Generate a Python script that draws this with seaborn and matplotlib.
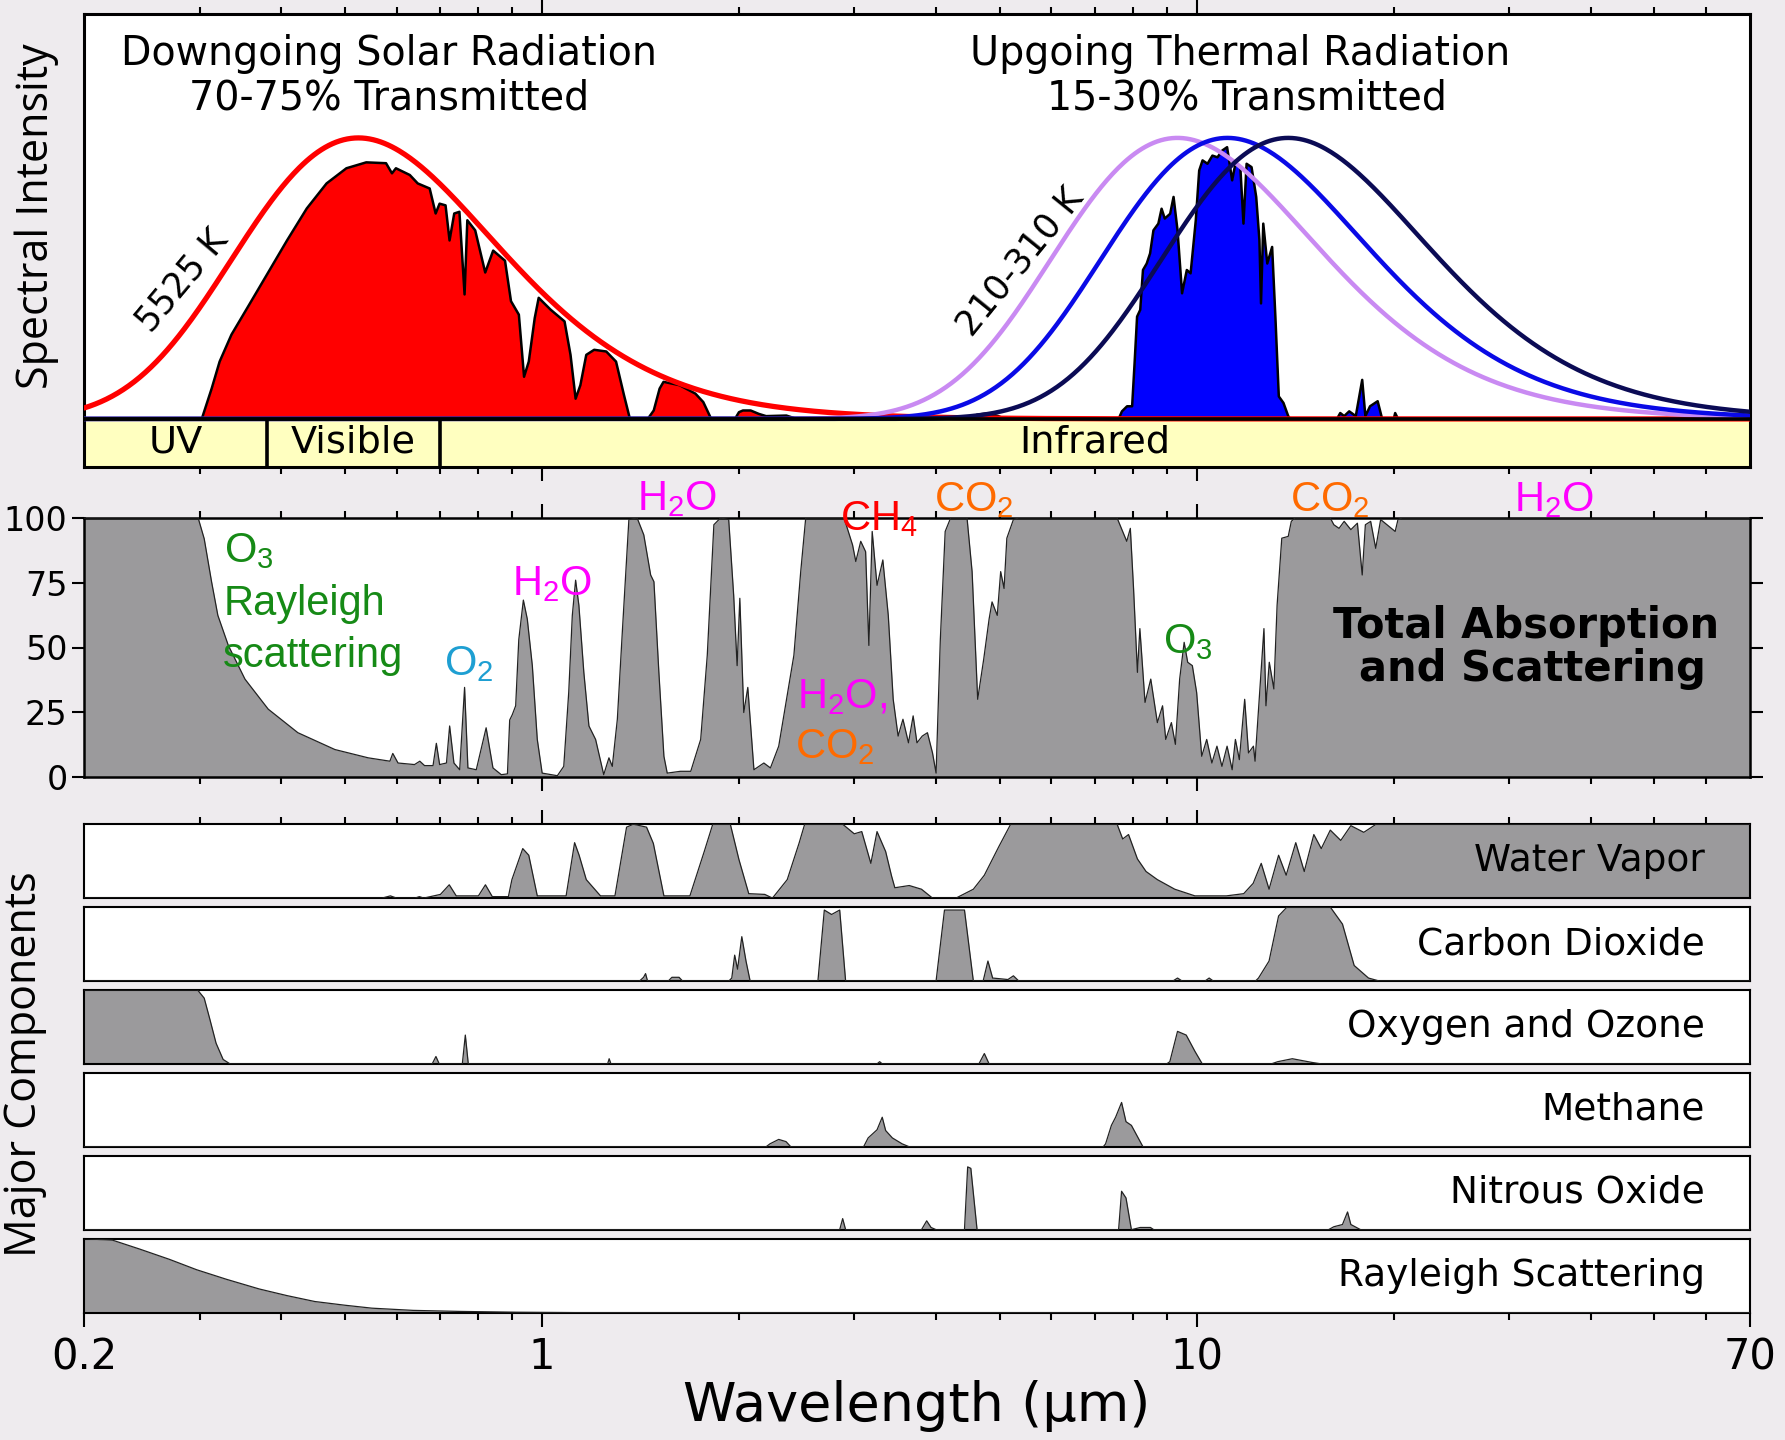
import numpy as np
import matplotlib
matplotlib.use("Agg")
import matplotlib.pyplot as plt
import seaborn as sns
from matplotlib.ticker import FixedLocator, FixedFormatter, NullFormatter

# ---------------------------------------------------------------- data
SUN_T = 5525                      # K, solar blackbody
EARTH_T = [310, 260, 210]         # K, terrestrial blackbodies
EARTH_COLORS = ["#C98AF2", "#0A0AE6", "#0B0B55"]

BAND_EDGES = [0.2, 0.38, 0.70, 70.0]
BAND_NAMES = ["UV", "Visible", "Infrared"]

# transmitted sunlight at the surface (fraction of the 5525 K peak)
SOLAR_WL = [0.2, 0.3024, 0.3131, 0.322, 0.3357, 0.3549, 0.3806, 0.4081, 0.4375,
            0.469, 0.5029, 0.5392, 0.5781, 0.5903, 0.5986, 0.6285, 0.6463, 0.674,
            0.6883, 0.6979, 0.7127, 0.7228, 0.7348, 0.7483, 0.762, 0.7694, 0.791,
            0.8194, 0.8426, 0.8784, 0.8971, 0.9223, 0.9393, 0.955, 0.9752, 0.9889,
            1.031, 1.083, 1.106, 1.126, 1.145, 1.169, 1.202, 1.254, 1.298, 1.335,
            1.363, 1.451, 1.482, 1.513, 1.534, 1.623, 1.716, 1.764, 1.814, 1.972,
            2.0, 2.028, 2.084, 2.144, 2.2, 2.363, 2.45, 70.0]
SOLAR_SURF = [0, 0, 0.108, 0.204, 0.30, 0.395, 0.515, 0.635, 0.749,
              0.838, 0.892, 0.913, 0.910, 0.874, 0.892, 0.868, 0.838, 0.820,
              0.731, 0.766, 0.760, 0.635, 0.731, 0.737, 0.443, 0.707, 0.671,
              0.521, 0.599, 0.563, 0.419, 0.371, 0.150, 0.204, 0.359, 0.431,
              0.389, 0.347, 0.228, 0.072, 0.120, 0.228, 0.246, 0.240, 0.204, 0.084,
              0, 0, 0.030, 0.108, 0.132, 0.120, 0.090, 0.060, 0, 0,
              0.024, 0.030, 0.030, 0.018, 0.010, 0.012, 0, 0]

# outgoing thermal radiation at the top of the atmosphere
THERMAL_WL = [0.2, 4.5, 4.62, 4.8, 4.98, 5.1, 7.6, 7.69, 7.83, 7.97, 8.04, 8.11, 8.2,
              8.28, 8.39, 8.49, 8.59, 8.74, 8.84, 8.94, 9.11, 9.22, 9.35, 9.5, 9.66,
              9.79, 9.97, 10.09, 10.21, 10.39, 10.57, 10.76, 10.94, 11.13, 11.33,
              11.46, 11.66, 11.79, 11.92, 12.13, 12.33, 12.47, 12.54, 12.64, 12.82,
              13.04, 13.19, 13.35, 13.57, 13.8, 13.9, 16.38, 16.57, 16.8, 17.1, 17.5,
              17.9, 18.1, 18.4, 18.9, 19.2, 20.0, 20.1, 20.3, 70.0]
THERMAL_TOA = [0, 0, 0.015, 0.02, 0.01, 0, 0, 0.027, 0.045, 0.045, 0.2, 0.364, 0.388,
               0.53, 0.553, 0.589, 0.671, 0.695, 0.748, 0.713, 0.730, 0.79, 0.671, 0.447, 0.530,
               0.518, 0.707, 0.884, 0.92, 0.908, 0.937, 0.931, 0.955, 0.967, 0.849,
               0.908, 0.896, 0.695, 0.908, 0.896, 0.79, 0.636, 0.411, 0.695, 0.553,
               0.612, 0.364, 0.08, 0.057, 0.01, 0, 0, 0.021, 0.01, 0.027, 0.01,
               0.139, 0.01, 0.045, 0.063, 0, 0, 0.021, 0, 0]

# total absorption and scattering (%)
TOTAL_WL = [0.2, 0.2986, 0.305, 0.313, 0.32, 0.332, 0.352, 0.382, 0.424, 0.483, 0.543,
            0.586, 0.592, 0.603, 0.639, 0.651, 0.662, 0.682, 0.69, 0.698, 0.715, 0.723,
            0.734, 0.749, 0.762, 0.771, 0.794, 0.822, 0.842, 0.867, 0.886, 0.893, 0.901,
            0.912, 0.922, 0.937, 0.95, 0.967, 0.984, 1.001, 1.056, 1.08, 1.099, 1.113,
            1.126, 1.139, 1.159, 1.18, 1.208, 1.243, 1.266, 1.281, 1.304, 1.327, 1.358,
            1.398, 1.431, 1.466, 1.483, 1.509, 1.536, 1.554, 1.628, 1.688, 1.748, 1.789,
            1.831, 1.874, 1.929, 1.963, 1.987, 2.006, 2.034, 2.063, 2.108, 2.183, 2.234,
            2.3, 2.355, 2.426, 2.485, 2.529, 2.894, 2.982, 3.016, 3.069, 3.122, 3.158,
            3.195, 3.25, 3.317, 3.381, 3.44, 3.5, 3.56, 3.63, 3.69, 3.74, 3.81, 3.88,
            3.95, 4.0, 4.06, 4.13, 4.21, 4.46, 4.54, 4.63, 4.73, 4.82, 4.87, 4.96, 5.02,
            5.08, 5.13, 5.25, 5.35, 7.56, 7.69, 7.82, 7.92, 8.01, 8.12, 8.19, 8.34, 8.51,
            8.71, 8.87, 8.97, 9.15, 9.28, 9.42, 9.57, 9.69, 9.85, 10.0, 10.18, 10.36,
            10.55, 10.74, 10.93, 11.13, 11.33, 11.46, 11.62, 11.84, 12.0, 12.21, 12.28,
            12.48, 12.67, 12.76, 12.91, 13.12, 13.27, 13.49, 13.8, 13.95, 14.13, 16.0,
            16.2, 16.5, 16.8, 17.2, 17.6, 17.9, 18.1, 18.44, 18.77, 19.1, 20.1, 20.3,
            20.6, 70.0]
TOTAL_ABS = [100, 100, 92, 75.4, 62.4, 50.8, 37.8, 26.2, 17.1, 10.6, 7.4,
             6.1, 9.1, 5.4, 4.8, 6.1, 4.4, 4.4, 13, 4.8, 5.4, 19.7,
             5.4, 2.8, 34.6, 3.5, 2.8, 19, 3.5, 0.9, 1.2, 22, 24,
             27.5, 53, 68.3, 61, 43, 14.5, 1.5, 0.5, 4.1, 32.6, 62.4,
             76, 66.3, 40.4, 19.7, 14.5, 0.9, 7.4, 4.1, 22.3, 56, 99.4,
             100, 93.5, 78, 75.4, 40.4, 8, 1.5, 2.2, 2.2, 14.5, 47,
             97.4, 100, 99.4, 70.2, 43, 69, 24.9, 34.6, 2.8, 5.4, 3.5,
             11.9, 27.5, 47, 79.3, 100, 100, 89.6, 83.2, 91, 87, 50.8,
             94.8, 74, 83.8, 62.4, 30, 15.8, 22.3, 13.2, 23.6, 13.2, 15.8, 17.1,
             9.3, 1.5, 53, 94.8, 100, 100, 79.3, 30, 45.6, 61, 67.6, 62.4, 79.3,
             72.8, 92.2, 99.4, 100, 100, 95.5, 91, 96, 72.8, 40.4, 57.3, 28.8, 37.8,
             21, 27.5, 14.5, 21, 12.6, 37.8, 52, 44.3, 43, 32.6, 8, 14.5,
             5.4, 11.9, 4.1, 11.9, 2.8, 14.5, 6.7, 30, 9.3, 11.9, 6.1,
             32.6, 57.3, 27.5, 44.3, 34, 66.3, 92.2, 92.9, 98.7, 100, 100,
             97.4, 96, 98.7, 95.5, 98, 78, 97.4, 98.7, 88.3, 99.4, 94.8, 99.4,
             100, 100]

# individual absorbers (fraction of full absorption)
H2O_WL = [0.2, 0.57, 0.587, 0.6, 0.64, 0.65, 0.66, 0.7, 0.722, 0.74, 0.8, 0.82, 0.84,
          0.889, 0.9, 0.935, 0.955, 0.984, 1.089, 1.122, 1.14, 1.169, 1.229, 1.293,
          1.347, 1.38, 1.445, 1.48, 1.536, 1.683, 1.77, 1.824, 1.94, 2.0, 2.07, 2.19,
          2.25, 2.37, 2.47, 2.52, 2.88, 3.0, 3.08, 3.18, 3.25, 3.35, 3.42, 3.46, 3.64,
          3.8, 3.95, 4.29, 4.56, 4.74, 4.99, 5.2, 7.56, 7.71, 7.87, 8.12, 8.37, 8.71,
          9.26, 9.94, 11.1, 11.8, 12.2, 12.55, 12.9, 13.34, 13.7, 14.17, 14.6, 15.1,
          15.5, 16.0, 16.6, 17.2, 18.0, 18.8, 70.0]
H2O_ABS = [0, 0, 0.03, 0, 0, 0.02, 0, 0.05, 0.18, 0.03, 0.03, 0.18, 0.02,
           0.02, 0.25, 0.67, 0.58, 0.03, 0.03, 0.75, 0.58, 0.25, 0.03, 0.03,
           0.96, 1.0, 0.96, 0.74, 0.03, 0.03, 0.63, 1.0, 1.0, 0.52, 0.06, 0.05,
           0.0, 0.25, 0.74, 1.0, 1.0, 0.87, 0.9, 0.47, 0.9, 0.63, 0.3, 0.14, 0.17,
           0.12, 0.0, 0.0, 0.12, 0.31, 0.7, 1.0, 1.0, 0.8, 0.86, 0.53, 0.36, 0.25,
           0.12, 0.03, 0.03, 0.06, 0.2, 0.47, 0.12, 0.58, 0.31, 0.75, 0.36, 0.86,
           0.67, 0.92, 0.78, 0.98, 0.89, 1.0, 1.0]

CO2_WL = [0.2, 1.41, 1.43, 1.44, 1.45, 1.56, 1.58, 1.62, 1.64, 1.93, 1.95, 1.97, 1.99,
          2.02, 2.05, 2.08, 2.64, 2.7, 2.77, 2.85, 2.91, 4.0, 4.12, 4.42, 4.56, 4.72,
          4.8, 4.88, 5.15, 5.25, 5.35, 9.2, 9.35, 9.5, 10.3, 10.45, 10.6, 12.3, 12.43,
          12.9, 13.34, 13.74, 16.0, 16.7, 17.4, 18.3, 19.0, 70.0]
CO2_ABS = [0, 0, 0.05, 0.1, 0, 0, 0.05, 0.05, 0, 0, 0.04, 0.35, 0.16,
           0.6, 0.27, 0, 0, 0.96, 0.9, 0.96, 0, 0, 0.96, 0.96, 0, 0,
           0.27, 0.04, 0.02, 0.07, 0, 0, 0.04, 0, 0, 0.04, 0, 0, 0.04,
           0.27, 0.88, 1.0, 1.0, 0.77, 0.21, 0.04, 0, 0]

O2O3_WL = [0.2, 0.298, 0.305, 0.311, 0.318, 0.326, 0.334, 0.68, 0.689, 0.697, 0.756,
           0.764, 0.772, 1.26, 1.267, 1.275, 3.25, 3.28, 3.31, 4.65, 4.74, 4.82, 9.0,
           9.1, 9.35, 9.64, 9.94, 10.2, 13.0, 13.3, 14.0, 15.0, 15.5, 70.0]
O2O3_ABS = [1.0, 1.0, 0.89, 0.61, 0.28, 0.06, 0.0, 0, 0.1, 0, 0,
            0.39, 0, 0, 0.07, 0, 0, 0.03, 0, 0, 0.14, 0, 0,
            0.03, 0.44, 0.39, 0.17, 0, 0, 0.03, 0.07, 0.02, 0, 0]

CH4_WL = [0.2, 2.2, 2.23, 2.3, 2.36, 2.4, 3.1, 3.15, 3.25, 3.31, 3.35, 3.43, 3.55,
          3.64, 7.2, 7.26, 7.41, 7.52, 7.68, 7.8, 7.95, 8.28, 70.0]
CH4_ABS = [0, 0, 0.04, 0.1, 0.07, 0, 0, 0.12, 0.23, 0.4, 0.22, 0.12, 0.04,
           0, 0, 0.04, 0.29, 0.4, 0.6, 0.34, 0.29, 0, 0]

N2O_WL = [0.2, 2.85, 2.88, 2.91, 3.8, 3.87, 3.93, 4.0, 4.42, 4.47, 4.52, 4.62, 7.6,
          7.68, 7.8, 7.95, 8.2, 8.5, 8.6, 15.9, 16.2, 16.7, 17.0, 17.2, 17.8, 70.0]
N2O_ABS = [0, 0, 0.15, 0, 0, 0.12, 0.03, 0, 0, 0.85, 0.83, 0, 0,
           0.52, 0.43, 0, 0.03, 0.03, 0, 0, 0.04, 0.07, 0.24, 0.07, 0, 0]

RAY_WL = [0.2, 0.221, 0.243, 0.27, 0.297, 0.33, 0.37, 0.408, 0.45, 0.5, 0.55, 0.636,
          0.75, 0.916, 1.12, 70.0]
RAY_ABS = [1.0, 0.98, 0.86, 0.72, 0.58, 0.45, 0.32, 0.23, 0.15, 0.10, 0.06, 0.03,
           0.016, 0.005, 0, 0]

COMPONENT_NAMES = ["Water Vapor", "Carbon Dioxide", "Oxygen and Ozone",
                   "Methane", "Nitrous Oxide", "Rayleigh Scattering"]
COMPONENT_WL = [H2O_WL, CO2_WL, O2O3_WL, CH4_WL, N2O_WL, RAY_WL]
COMPONENT_ABS = [H2O_ABS, CO2_ABS, O2O3_ABS, CH4_ABS, N2O_ABS, RAY_ABS]

X_MAJOR = [1, 10]
X_MINOR = [0.3, 0.4, 0.5, 0.6, 0.7, 0.8, 0.9, 2, 3, 4, 5, 6, 7, 8, 9,
           20, 30, 40, 50, 60]
X_LABEL_TICKS = [0.2, 1, 10, 70]
X_LABELS = ["0.2", "1", "10", "70"]
Y_TICKS = [0, 25, 50, 75, 100]
Y_LABELS = ["0", "25", "50", "75", "100"]

# ---------------------------------------------------------------- style
BG = "#EEEBEE"
GREY = "#9B9A9C"
BAND_YELLOW = "#FFFFC0"
W, H = 1785, 1440

sns.set_theme(style="white", rc={
    "axes.edgecolor": "black", "text.color": "black", "axes.labelcolor": "black",
    "xtick.color": "black", "ytick.color": "black",
    "figure.facecolor": BG, "axes.facecolor": "white",
})
plt.rcParams["font.family"] = ["DejaVu Sans"]
plt.rcParams["mathtext.default"] = "regular"

fig = plt.figure(figsize=(W / 100, H / 100), dpi=100)
fig.patch.set_facecolor(BG)

X0, X1 = 84.2, 1750.0


def px_axes(top, bottom):
    return fig.add_axes([X0 / W, 1 - bottom / H, (X1 - X0) / W, (bottom - top) / H])


def fx(px):
    return px / W


def fy(py):
    return 1 - py / H


def setup_x(ax, top, bottom, labels=False, major=X_MAJOR):
    ax.set_xscale("log")
    ax.set_xlim(0.2, 70)
    ax.xaxis.set_major_locator(FixedLocator(major))
    ax.xaxis.set_minor_locator(FixedLocator(X_MINOR))
    ax.xaxis.set_minor_formatter(NullFormatter())
    if labels:
        ax.xaxis.set_major_formatter(FixedFormatter(X_LABELS))
    else:
        ax.xaxis.set_major_formatter(NullFormatter())
    ax.tick_params(axis="x", which="both", direction="out", top=top, bottom=bottom,
                   labelbottom=labels, labeltop=False, width=1.5, color="black")
    ax.tick_params(axis="x", which="major", length=10)
    ax.tick_params(axis="x", which="minor", length=5)


def planck(lam, T):
    return lam ** -5 / np.expm1(14387.77 / (lam * T))


lam = np.geomspace(0.2, 70, 900)

# ---------------------------------------------------------------- spectrum panel
ax_top = px_axes(13.7, 466.7)
ax_top.set_ylim(-0.170, 1.442)
setup_x(ax_top, top=True, bottom=True)
ax_top.set_yticks([])
for s in ax_top.spines.values():
    s.set_linewidth(2.2)

ax_top.axhspan(-0.170, 0, facecolor=BAND_YELLOW, edgecolor="none", zorder=1)
ax_top.vlines(BAND_EDGES[1:-1], -0.170, 0, color="black", lw=2.6, zorder=6)
for lo, hi, name in zip(BAND_EDGES[:-1], BAND_EDGES[1:], BAND_NAMES):
    ax_top.text(np.sqrt(lo * hi), -0.085, name, ha="center", va="center",
                fontsize=27.5, zorder=7)

ax_top.fill_between(SOLAR_WL, 0, SOLAR_SURF, color="#FF0000", lw=0, zorder=2)
sns.lineplot(x=SOLAR_WL, y=SOLAR_SURF, ax=ax_top, color="black", lw=1.8,
             estimator=None, sort=False, legend=False, zorder=3)
ax_top.fill_between(THERMAL_WL, 0, THERMAL_TOA, color="#0000FF", lw=0, zorder=2)
sns.lineplot(x=THERMAL_WL, y=THERMAL_TOA, ax=ax_top, color="black", lw=1.8,
             estimator=None, sort=False, legend=False, zorder=3)

sun = planck(lam, SUN_T)
sns.lineplot(x=lam, y=sun / sun.max(), ax=ax_top, color="#FF0000", lw=3.8,
             estimator=None, sort=False, legend=False, zorder=4)
for T, c in zip(EARTH_T, EARTH_COLORS):
    b = planck(lam, T)
    sns.lineplot(x=lam, y=b / b.max(), ax=ax_top, color=c, lw=3.2,
                 estimator=None, sort=False, legend=False, zorder=4)
ax_top.axhline(0, color="black", lw=2.6, zorder=5)
ax_top.set_xlabel("")
ax_top.set_ylabel("")

fig.text(fx(36.4), fy(216), "Spectral Intensity", rotation=90, ha="center", va="center",
         fontsize=31, family=["Open Sans", "DejaVu Sans"])

fig.text(fx(389), fy(65), "Downgoing Solar Radiation", ha="center", va="baseline", fontsize=28.5)
fig.text(fx(389), fy(110), "70-75% Transmitted", ha="center", va="baseline", fontsize=28.5)
fig.text(fx(1240), fy(65), "Upgoing Thermal Radiation", ha="center", va="baseline", fontsize=28.5)
fig.text(fx(1247), fy(110), "15-30% Transmitted", ha="center", va="baseline", fontsize=28.5)
fig.text(fx(182), fy(281), f"{SUN_T} K", ha="center", va="center", rotation=50,
         fontsize=25, rotation_mode="anchor")
fig.text(fx(1020), fy(262), f"{EARTH_T[-1]}-{EARTH_T[0]} K", ha="center", va="center",
         rotation=51, fontsize=25, rotation_mode="anchor")

# ---------------------------------------------------------------- total absorption panel
ax_mid = px_axes(518, 777)
ax_mid.set_ylim(0, 100)
setup_x(ax_mid, top=True, bottom=True)
ax_mid.fill_between(TOTAL_WL, 0, TOTAL_ABS, color=GREY, lw=0, zorder=2)
sns.lineplot(x=TOTAL_WL, y=TOTAL_ABS, ax=ax_mid, color="#222222", lw=0.9,
             estimator=None, sort=False, legend=False, zorder=3)
ax_mid.set_yticks(Y_TICKS)
ax_mid.set_yticklabels(Y_LABELS)
ax_mid.tick_params(axis="y", which="major", direction="out", left=True, right=True,
                   labelleft=True, labelright=False, length=9, width=1.5, pad=3,
                   labelsize=24)
ax_mid.set_xlabel("")
ax_mid.set_ylabel("")
for s in ax_mid.spines.values():
    s.set_linewidth(1.8)

GAS = "Liberation Sans"
GREEN, CYAN, MAGENTA, RED, ORANGE = "#168A16", "#1E9FD2", "#FF00FF", "#FF0000", "#FF6A00"
labels = [
    (224, 562, r"O$_\mathregular{3}$", GREEN),
    (224, 615, "Rayleigh", GREEN),
    (223, 667, "scattering", GREEN),
    (444, 675, r"O$_\mathregular{2}$", CYAN),
    (512, 595, r"H$_\mathregular{2}$O", MAGENTA),
    (637, 510, r"H$_\mathregular{2}$O", MAGENTA),
    (840, 530, r"CH$_\mathregular{4}$", RED),
    (934, 511, r"CO$_\mathregular{2}$", ORANGE),
    (797, 708, r"H$_\mathregular{2}$O,", MAGENTA),
    (795, 758, r"CO$_\mathregular{2}$", ORANGE),
    (1163, 653, r"O$_\mathregular{3}$", GREEN),
    (1290, 511, r"CO$_\mathregular{2}$", ORANGE),
    (1514, 511, r"H$_\mathregular{2}$O", MAGENTA),
]
for x, y, s, c in labels:
    fig.text(fx(x), fy(y), s, color=c, ha="left", va="baseline", fontsize=30,
             family=GAS, zorder=10)

fig.text(fx(1526), fy(638), "Total Absorption", ha="center", va="baseline",
         fontsize=30, fontweight="bold")
fig.text(fx(1532), fy(681), "and Scattering", ha="center", va="baseline",
         fontsize=30, fontweight="bold")

# ---------------------------------------------------------------- component strips
STRIP_TOP, STRIP_H, STRIP_GAP = 824.2, 73.9, 9.0
strip_axes = []
for i, (name, wl, val) in enumerate(zip(COMPONENT_NAMES, COMPONENT_WL, COMPONENT_ABS)):
    top = STRIP_TOP + i * (STRIP_H + STRIP_GAP)
    ax = px_axes(top, top + STRIP_H)
    ax.set_ylim(0, 1.0)
    last = i == len(COMPONENT_NAMES) - 1
    setup_x(ax, top=(i == 0), bottom=last, labels=last,
            major=X_LABEL_TICKS if last else X_MAJOR)
    ax.set_yticks([])
    for s in ax.spines.values():
        s.set_linewidth(1.5)
    ax.fill_between(wl, 0, val, color=GREY, lw=0, zorder=2)
    sns.lineplot(x=wl, y=val, ax=ax, color="#222222", lw=0.9, estimator=None,
                 sort=False, legend=False, zorder=3)
    ax.set_xlabel("")
    ax.set_ylabel("")
    ax.text(0.973, 0.5, name, transform=ax.transAxes, ha="right", va="center",
            fontsize=27, zorder=5)
    strip_axes.append(ax)

ax_bot = strip_axes[-1]
ax_bot.tick_params(axis="x", which="major", labelsize=30, pad=7)
ax_bot.set_xlabel("Wavelength (µm)", fontsize=39)
ax_bot.xaxis.set_label_coords(0.5, (top + STRIP_H - 1406) / STRIP_H)
ax_bot.xaxis.label.set_va("center")

fig.text(fx(25), fy(1064), "Major Components", rotation=90, ha="center", va="center",
         fontsize=31, family=["Open Sans", "DejaVu Sans"])

fig.savefig("out.png", dpi=100, facecolor=BG)
